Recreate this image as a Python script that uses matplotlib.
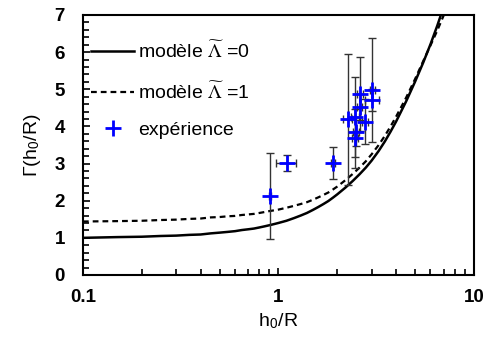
import numpy as np
import matplotlib
matplotlib.use("Agg")
import matplotlib.pyplot as plt
from matplotlib.ticker import FixedLocator, NullFormatter, MultipleLocator

plt.rcParams["font.family"] = ["Liberation Sans", "DejaVu Sans"]
plt.rcParams["mathtext.fontset"] = "stix"

# model curves
h_model = [0.1, 0.15, 0.2, 0.25, 0.3, 0.35, 0.4, 0.45, 0.5, 0.55, 0.6, 0.65, 0.7, 0.75,
           0.8, 0.85, 0.9, 0.95, 1.0, 1.1, 1.2, 1.3, 1.4, 1.5, 1.6, 1.7, 1.8, 1.9, 2.0,
           2.2, 2.4, 2.6, 2.8, 3.0, 3.25, 3.5, 3.75, 4.0, 4.5, 5.0, 5.5, 6.0, 6.5, 7.0, 7.5]
gamma_l0 = [1.00, 1.02, 1.03, 1.05, 1.06, 1.08, 1.09, 1.12, 1.14, 1.16, 1.18, 1.21, 1.23, 1.25,
            1.28, 1.31, 1.34, 1.37, 1.40, 1.46, 1.53, 1.60, 1.67, 1.75, 1.83, 1.91, 1.99, 2.08, 2.17,
            2.35, 2.53, 2.71, 2.89, 3.08, 3.33, 3.59, 3.86, 4.13, 4.67, 5.20, 5.71, 6.21, 6.71, 7.21, 7.71]
gamma_l1 = [1.44, 1.45, 1.46, 1.48, 1.49, 1.51, 1.52, 1.55, 1.56, 1.58, 1.59, 1.615, 1.63, 1.645,
            1.67, 1.695, 1.72, 1.74, 1.76, 1.81, 1.86, 1.91, 1.96, 2.025, 2.09, 2.155, 2.22, 2.30, 2.38,
            2.55, 2.72, 2.89, 3.06, 3.25, 3.49, 3.74, 4.00, 4.26, 4.77, 5.27, 5.75, 6.18, 6.58, 6.98, 7.38]

# experimental points
h_exp = [0.905, 1.105, 1.90, 2.27, 2.46, 2.61, 2.61, 2.77, 2.49, 2.46, 3.03, 3.03]
g_exp = [2.13, 3.02, 3.02, 4.19, 4.26, 4.87, 4.52, 4.13, 3.86, 3.68, 4.98, 4.71]
h_err = [0.01, 0.13, 0.05, 0.12, 0.12, 0.10, 0.08, 0.10, 0.08, 0.08, 0.08, 0.25]
g_err = [1.15, 0.22, 0.43, 1.77, 1.08, 1.00, 0.35, 0.60, 0.40, 0.80, 1.40, 0.30]

fig = plt.figure(figsize=(4.85, 3.47), dpi=100)
ax = fig.add_axes([0.171, 0.2075, 0.806, 0.7495])

ax.plot(h_model, gamma_l0, color="black", lw=1.8, label=r"modèle $\widetilde{\Lambda}$ =0")
ax.plot(h_model, gamma_l1, color="black", lw=1.6, linestyle=(0, (2.6, 1.8)),
        label=r"modèle $\widetilde{\Lambda}$ =1")

ax.errorbar(h_exp, g_exp, xerr=h_err, yerr=g_err, fmt="none", ecolor="#333333",
            elinewidth=1, capsize=3, capthick=1, zorder=3)
ax.plot(h_exp, g_exp, linestyle="none", marker="+", ms=11, mew=2, color="#0000ff",
        label="expérience", zorder=4)

ax.set_xscale("log")
ax.set_xlim(0.1, 10)
ax.set_ylim(0, 7)
ax.xaxis.set_major_locator(FixedLocator([0.1, 1, 10]))
ax.set_xticklabels(["0.1", "1", "10"])
minors = [m * d for d in (0.1, 1) for m in range(2, 10)]
ax.xaxis.set_minor_locator(FixedLocator(minors))
ax.xaxis.set_minor_formatter(NullFormatter())
ax.yaxis.set_major_locator(MultipleLocator(1))
ax.yaxis.set_minor_locator(MultipleLocator(0.2))

ax.tick_params(which="both", direction="in", top=False, right=False, width=1.2)
ax.tick_params(axis="y", which="major", length=5, pad=13, labelsize=13.5)
ax.tick_params(axis="y", which="minor", length=4)
ax.tick_params(axis="x", which="major", length=5, pad=10, labelsize=13.5)
ax.tick_params(axis="x", which="minor", length=4)
for lab in ax.get_xticklabels() + ax.get_yticklabels():
    lab.set_fontweight("bold")
for sp in ax.spines.values():
    sp.set_linewidth(1.5)

ax.set_xlabel(r"h$_\mathregular{0}$/R", fontsize=14, labelpad=4)
ax.set_ylabel(r"Γ(h$_\mathregular{0}$/R)", fontsize=14, labelpad=8)

ax.legend(loc="upper left", bbox_to_anchor=(-0.013, 0.952), frameon=False, fontsize=14,
          handlelength=2.2, handletextpad=0.2, labelspacing=0.98, borderaxespad=0.3)

fig.savefig("out.png", dpi=100)
